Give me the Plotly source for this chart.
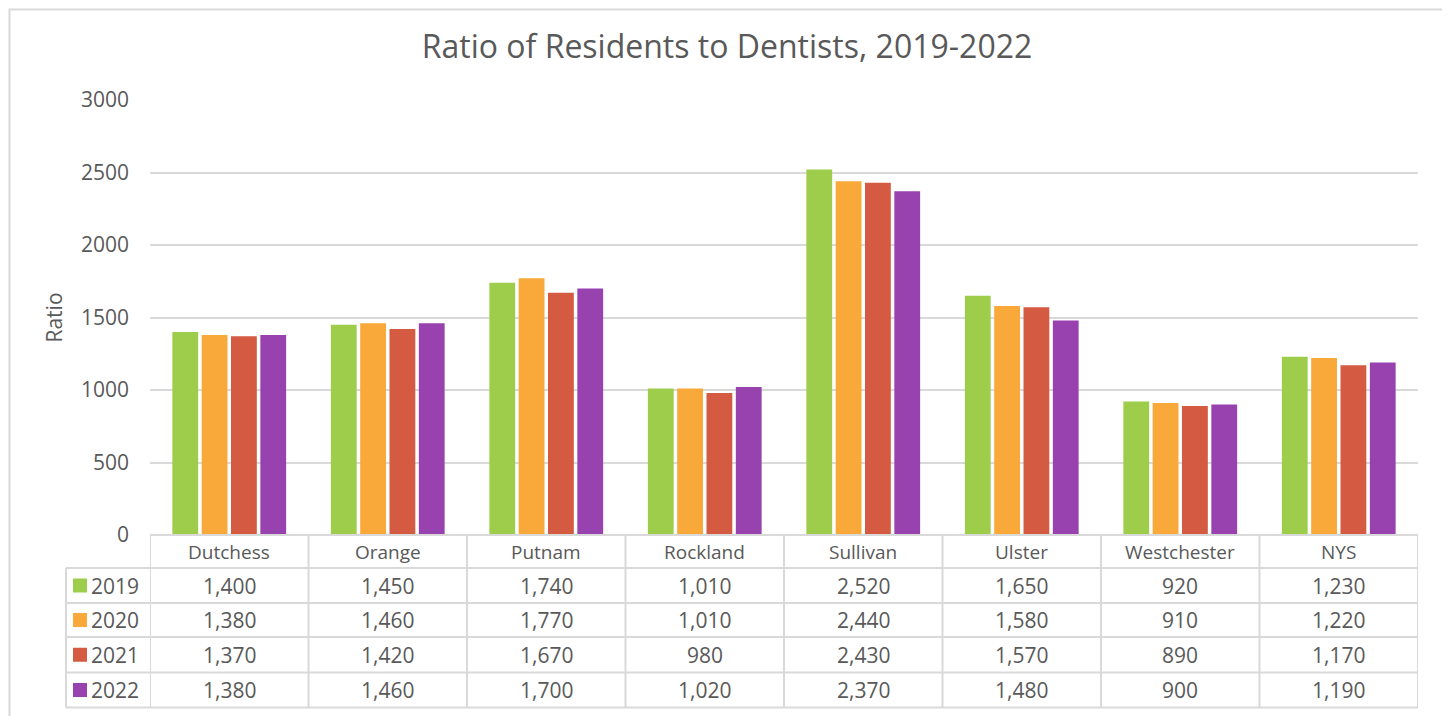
import plotly.graph_objects as go

counties = ['Dutchess', 'Orange', 'Putnam', 'Rockland', 'Sullivan', 'Ulster', 'Westchester', 'NYS']
years = ['2019', '2020', '2021', '2022']
ratio_2019 = [1400, 1450, 1740, 1010, 2520, 1650, 920, 1230]
ratio_2020 = [1380, 1460, 1770, 1010, 2440, 1580, 910, 1220]
ratio_2021 = [1370, 1420, 1670, 980, 2430, 1570, 890, 1170]
ratio_2022 = [1380, 1460, 1700, 1020, 2370, 1480, 900, 1190]
y_ticks = [0, 500, 1000, 1500, 2000, 2500, 3000]

series = [ratio_2019, ratio_2020, ratio_2021, ratio_2022]
colors = ['#9DCD4B', '#F9A83A', '#D45A41', '#9842B0']
font = 'Open Sans'
grey = '#595959'
line_col = '#D9D9D9'

# page is 1450 x 716, but the html body adds an 8px margin
OFF = 8
PW, PH = 1450 - OFF, 716 - OFF
# plot area in page pixels
L, R, T, B = 150, 1418, 100, 535
W, H = R - L, B - T


def px_x(x):
    return (x - L) / W


def px_y(y):
    return (B - y) / H


fig = go.Figure()
for yr, vals, c in zip(years, series, colors):
    fig.add_trace(go.Bar(name=yr, x=counties, y=vals, marker_color=c,
                         marker_line_width=0, showlegend=False))

shapes = []
annotations = []

# outer chart frame
shapes.append(dict(type='rect', xref='paper', yref='paper',
                   x0=px_x(9.5), x1=px_x(1446), y0=px_y(730), y1=px_y(9.5),
                   line=dict(color=line_col, width=2), layer='below'))

# data table grid
row_lines = [535, 568, 603, 637, 672.5, 707.5]
for i, yl in enumerate(row_lines):
    x_start = L if i == 0 else 66
    shapes.append(dict(type='line', xref='paper', yref='paper',
                       x0=px_x(x_start), x1=px_x(R), y0=px_y(yl), y1=px_y(yl),
                       line=dict(color=line_col, width=2)))
shapes.append(dict(type='line', xref='paper', yref='paper',
                   x0=px_x(66), x1=px_x(66), y0=px_y(568), y1=px_y(707.5),
                   line=dict(color=line_col, width=2)))
for k in range(len(counties) + 1):
    xv = k - 0.5
    shapes.append(dict(type='line', xref='x', yref='paper',
                       x0=xv, x1=xv, y0=px_y(535), y1=px_y(707.5),
                       line=dict(color=line_col, width=2)))

hfont = dict(family=font, size=19, color=grey)
nfont = dict(family=font, size=21, color=grey)
# header row
for c in counties:
    annotations.append(dict(x=c, xref='x', y=px_y((535 + 568) / 2), yref='paper',
                            text=c, showarrow=False, font=hfont,
                            xanchor='center', yanchor='middle'))
# value rows with legend keys
for r, (yr, vals, col) in enumerate(zip(years, series, colors)):
    yc = (row_lines[r + 1] + row_lines[r + 2]) / 2
    shapes.append(dict(type='rect', xref='paper', yref='paper',
                       x0=px_x(73), x1=px_x(87), y0=px_y(yc - 7), y1=px_y(yc + 7),
                       fillcolor=col, line=dict(width=0)))
    annotations.append(dict(x=px_x(89), xref='paper', y=px_y(yc), yref='paper',
                            text=yr, showarrow=False, font=nfont,
                            xanchor='left', yanchor='middle'))
    for c, v in zip(counties, vals):
        annotations.append(dict(x=c, xref='x', y=px_y(yc), yref='paper',
                                text=f'{v:,}', showarrow=False, font=nfont,
                                xanchor='center', yanchor='middle'))

fig.update_layout(
    width=PW, height=PH,
    margin=dict(l=L - OFF, r=1450 - R, t=T - OFF, b=716 - B, autoexpand=False),
    paper_bgcolor='white', plot_bgcolor='white',
    font=dict(family=font, color=grey),
    title=dict(text='Ratio of Residents to Dentists, 2019-2022',
               x=(727 - OFF) / PW, xanchor='center',
               y=1 - (47 - OFF) / PH, yanchor='middle',
               font=dict(family=font, size=32, color=grey)),
    barmode='group', bargap=0.26, bargroupgap=0.12,
    shapes=shapes, annotations=annotations,
)
fig.update_xaxes(range=[-0.5, len(counties) - 0.5], showticklabels=False,
                 showgrid=False, zeroline=False, showline=False)
fig.update_yaxes(range=[0, 3000], tickvals=y_ticks, showgrid=True,
                 gridcolor=line_col, gridwidth=2, zeroline=False,
                 ticks='', ticklabelstandoff=20,
                 tickfont=dict(family=font, size=21, color=grey),
                 title=dict(text='Ratio', standoff=12,
                            font=dict(family=font, size=21, color=grey)))

fig.write_html('out.html')
